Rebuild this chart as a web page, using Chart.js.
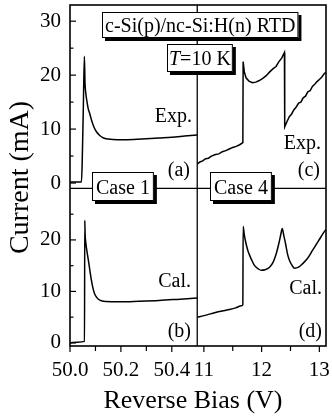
<!DOCTYPE html>
<html>
<head>
<meta charset="utf-8">
<script src="https://cdn.jsdelivr.net/npm/chart.js@4/dist/chart.umd.min.js"></script>
<style>
  html, body { margin: 0; padding: 0; background: #fff; }
  canvas { display: block; }
</style>
</head>
<body>
<canvas id="rtd" width="332" height="419"></canvas>
<script>
// panel (a) measured, 50 V window
const biasA = [50.000, 50.045, 50.048, 50.052, 50.0565, 50.059, 50.0625, 50.067, 50.0715, 50.078, 50.085, 50.094, 50.104, 50.117, 50.13, 50.15, 50.17, 50.2, 50.25, 50.3, 50.35, 50.4, 50.45, 50.5];
const currentA = [0.2, 0.2, 4, 13, 23.5, 18.5, 16.5, 15, 13.8, 12.8, 11.6, 10.4, 9.5, 8.8, 8.4, 8.15, 8.05, 8.0, 8.05, 8.2, 8.35, 8.5, 8.7, 8.9];
// panel (b) calculated, case 1
const biasB = [50.0, 50.03, 50.057, 50.058, 50.0595, 50.062, 50.0676, 50.073, 50.078, 50.084, 50.091, 50.097, 50.104, 50.117, 50.14, 50.2, 50.27, 50.35, 50.42, 50.5];
const currentB = [0.0, 0.15, 0.3, 23.8, 21, 19.5, 17.5, 15.8, 14.1, 12.2, 10.5, 9.5, 8.9, 8.3, 8.05, 8.0, 8.1, 8.25, 8.45, 8.7];
// panel (c) measured, 11-13 V window
const biasC = [10.885, 10.93, 10.98, 11.03, 11.08, 11.13, 11.2, 11.26, 11.32, 11.38, 11.44, 11.5, 11.56, 11.62, 11.675, 11.68, 11.70, 11.73, 11.78, 11.84, 11.9, 11.96, 12.02, 12.08, 12.14, 12.2, 12.25, 12.3, 12.35, 12.395, 12.4, 12.44, 12.48, 12.52, 12.56, 12.6, 12.64, 12.68, 12.72, 12.76, 12.8, 12.84, 12.88, 12.92, 12.96, 13.0, 13.04, 13.08, 13.115];
const currentC = [3.5, 3.9, 4.1, 4.5, 4.6, 5.0, 5.3, 5.4, 5.8, 6.0, 6.3, 6.6, 6.8, 7.1, 7.5, 22.5, 20.6, 19.5, 18.9, 18.6, 18.7, 19.0, 19.4, 19.9, 20.6, 21.2, 21.6, 22.5, 23.2, 24.2, 10.4, 11.4, 12.3, 12.8, 13.6, 14.1, 14.8, 15.0, 15.8, 16.1, 16.9, 17.1, 17.9, 18.3, 18.8, 19.2, 19.6, 20.2, 20.6];
// panel (d) calculated, case 4
const biasD = [10.885, 11.0, 11.2, 11.4, 11.55, 11.65, 11.675, 11.68, 11.70, 11.724, 11.76, 11.793, 11.84, 11.879, 11.94, 11.995, 12.06, 12.138, 12.2, 12.253, 12.3, 12.335, 12.357, 12.385, 12.414, 12.45, 12.483, 12.53, 12.569, 12.64, 12.712, 12.8, 12.884, 12.99, 13.098, 13.115];
const currentD = [5.0, 5.3, 5.9, 6.4, 6.8, 7.2, 7.4, 22.6, 21.0, 19.6, 18.0, 17.0, 15.8, 15.0, 14.4, 14.1, 14.2, 14.7, 15.7, 17.3, 19.4, 21.2, 22.2, 20.8, 19.3, 17.2, 16.0, 15.0, 14.5, 14.7, 15.4, 16.5, 18.0, 19.9, 21.8, 22.0];

// axis ranges and ticks
const leftRange = [50.0, 50.5];
const rightRange = [10.885, 13.115];
const topRange = [-1, 33];
const bottomRange = [-0.6, 30];
const leftTicks = [50.0, 50.2, 50.4];
const leftMinor = [50.1, 50.3];
const rightTicks = [11, 12, 13];
const rightMinor = [11.5, 12.5];
const topTicks = [0, 10, 20, 30];
const topMinor = [5, 15, 25];
const bottomTicks = [0, 10, 20];
const bottomMinor = [5, 15, 25];

const FONT = '"Liberation Serif", "Times New Roman", serif';
Chart.defaults.font.family = FONT;
Chart.defaults.color = '#000';

const pts = (xs, ys) => xs.map((x, i) => ({ x, y: ys[i] }));
const setTicks = vals => s => { s.ticks = vals.map(v => ({ value: v })); };

function line(ctx, x1, y1, x2, y2){ ctx.beginPath(); ctx.moveTo(x1, y1); ctx.lineTo(x2, y2); ctx.stroke(); }

// frame, inner dividers and tick marks
const frame = {
    id: 'frame',
    afterDraw(chart){
        const { ctx, chartArea: a, scales: s } = chart;
        ctx.save();
        ctx.strokeStyle = '#000';
        ctx.lineWidth = 1.6;
        ctx.strokeRect(a.left, a.top, a.right - a.left, a.bottom - a.top);
        ctx.lineWidth = 1.3;
        line(ctx, a.left, s.yTop.bottom, a.right, s.yTop.bottom);
        line(ctx, s.xLeft.right, a.top, s.xLeft.right, a.bottom);
        ctx.lineWidth = 1.2;
        const yMarks = (sc, vals, len) => vals.forEach(v => { const y = sc.getPixelForValue(v); line(ctx, a.left, y, a.left + len, y); });
        const xMarks = (sc, vals, len) => vals.forEach(v => { const x = sc.getPixelForValue(v); line(ctx, x, a.bottom, x, a.bottom + len); });
        yMarks(s.yTop, topTicks, 6); yMarks(s.yTop, topMinor, 3.5);
        yMarks(s.yBot, bottomTicks, 6); yMarks(s.yBot, bottomMinor, 3.5);
        xMarks(s.xLeft, leftTicks, 6); xMarks(s.xLeft, leftMinor, 5);
        xMarks(s.xRight, rightTicks, 6); xMarks(s.xRight, rightMinor, 5);
        ctx.restore();
    }
};

// labels, boxed captions and axis titles
const notes = [
    { text: 'Exp.', x: 192, y: 122 },
    { text: '(a)', x: 190, y: 176 },
    { text: 'Exp.', x: 321, y: 149 },
    { text: '(c)', x: 320, y: 176 },
    { text: 'Cal.', x: 191, y: 287 },
    { text: '(b)', x: 191, y: 337 },
    { text: 'Cal.', x: 322, y: 294 },
    { text: '(d)', x: 322, y: 337 }
];
const boxes = [
    { parts: [['c-Si(p)/nc-Si:H(n) RTD', '']], x: 102, y: 12, h: 26, pad: 3 },
    { parts: [['T', 'italic '], ['=10 K', '']], x: 167, y: 44, h: 28, pad: 2 },
    { parts: [['Case 1', '']], x: 92, y: 172, h: 29, pad: 4 },
    { parts: [['Case 4', '']], x: 210, y: 172, h: 29, pad: 4 }
];

const annotations = {
    id: 'annotations',
    afterDraw(chart){
        const { ctx, chartArea: a } = chart;
        ctx.save();
        ctx.fillStyle = '#000';
        ctx.font = `20px ${FONT}`;
        ctx.textAlign = 'right';
        ctx.textBaseline = 'alphabetic';
        notes.forEach(n => ctx.fillText(n.text, n.x, n.y));

        ctx.textAlign = 'left';
        boxes.forEach(b => {
            const widths = b.parts.map(([t, st]) => { ctx.font = `${st}20px ${FONT}`; return ctx.measureText(t).width; });
            const w = widths.reduce((p, c) => p + c, 0) + b.pad * 2;
            ctx.fillStyle = '#000';
            ctx.fillRect(b.x + 3, b.y + 3, w, b.h);
            ctx.fillStyle = '#fff';
            ctx.fillRect(b.x, b.y, w, b.h);
            ctx.strokeStyle = '#000';
            ctx.lineWidth = 1;
            ctx.strokeRect(b.x + 0.5, b.y + 0.5, w - 1, b.h - 1);
            ctx.fillStyle = '#000';
            let tx = b.x + b.pad;
            b.parts.forEach(([t, st], i) => {
                ctx.font = `${st}20px ${FONT}`;
                ctx.fillText(t, tx, b.y + b.h / 2 + 7);
                tx += widths[i];
            });
        });

        ctx.textAlign = 'center';
        ctx.textBaseline = 'middle';
        ctx.font = `26px ${FONT}`;
        ctx.fillText('Reverse Bias (V)', 193, 401);
        ctx.font = `28px ${FONT}`;
        ctx.translate(21, (a.top + a.bottom) / 2 + 2);
        ctx.rotate(-Math.PI / 2);
        ctx.fillText('Current (mA)', 0, 0);
        ctx.restore();
    }
};

const lineStyle = { borderColor: '#000', borderWidth: 1.5, pointRadius: 0, fill: false };
const xAxis = (range, weight, ticks, fmt) => ({
    type: 'linear', position: 'bottom', stack: 'bias', stackWeight: weight, weight: weight,
    min: range[0], max: range[1],
    afterBuildTicks: setTicks(ticks),
    afterFit: s => { s.height = 73; s.paddingLeft = 0; s.paddingRight = 0; },
    grid: { display: false, drawTicks: false },
    border: { display: false },
    ticks: { font: { size: 21 }, padding: 12, autoSkip: false, maxRotation: 0, callback: fmt }
});
const yAxis = (range, weight, ticks) => ({
    type: 'linear', position: 'left', stack: 'current', stackWeight: weight, weight: weight,
    min: range[0], max: range[1],
    afterBuildTicks: setTicks(ticks),
    afterFit: s => { s.width = 70; s.paddingTop = 0; s.paddingBottom = 0; },
    grid: { display: false, drawTicks: false },
    border: { display: false },
    ticks: { font: { size: 21 }, padding: 9, autoSkip: false }
});

new Chart(document.getElementById('rtd'), {
    type: 'line',
    data: {
        datasets: [
            { label: 'Exp. (a)', data: pts(biasA, currentA), xAxisID: 'xLeft', yAxisID: 'yTop', cubicInterpolationMode: 'monotone', ...lineStyle },
            { label: 'Cal. (b)', data: pts(biasB, currentB), xAxisID: 'xLeft', yAxisID: 'yBot', cubicInterpolationMode: 'monotone', ...lineStyle },
            { label: 'Exp. (c)', data: pts(biasC, currentC), xAxisID: 'xRight', yAxisID: 'yTop', tension: 0, ...lineStyle },
            { label: 'Cal. (d)', data: pts(biasD, currentD), xAxisID: 'xRight', yAxisID: 'yBot', cubicInterpolationMode: 'monotone', ...lineStyle }
        ]
    },
    options: {
        responsive: false,
        animation: false,
        layout: { padding: { top: 5, right: 6, left: 0, bottom: 0 } },
        plugins: { legend: { display: false }, tooltip: { enabled: false } },
        scales: {
            xLeft: xAxis(leftRange, 1, leftTicks, v => v.toFixed(1)),
            xRight: xAxis(rightRange, 1.012, rightTicks, v => String(v)),
            yTop: yAxis(topRange, 1.164, topTicks),
            yBot: yAxis(bottomRange, 1, bottomTicks)
        }
    },
    plugins: [frame, annotations]
});
</script>
</body>
</html>
